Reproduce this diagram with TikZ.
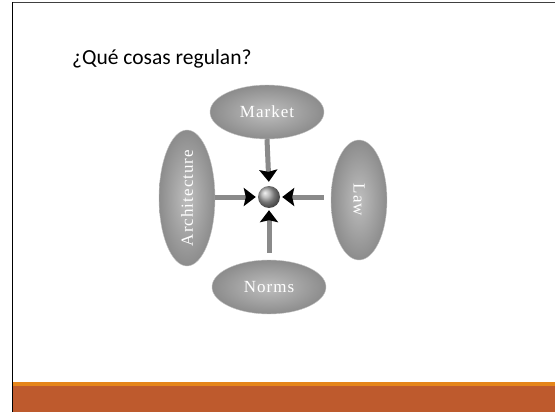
\documentclass[tikz,border=0pt]{standalone}
\usepackage{fontspec}
\newfontfamily\carlito{Carlito}
\newfontfamily\labelserif[LetterSpace=6]{Liberation Serif}
\usetikzlibrary{shapes.geometric,arrows.meta}
\definecolor{bandlight}{HTML}{E5851A}
\definecolor{banddark}{HTML}{BE5A2D}
\definecolor{framegray}{HTML}{404040}
\definecolor{ellin}{HTML}{BEBEBE}
\definecolor{ellout}{HTML}{8C8C8C}
\definecolor{shaft}{HTML}{8A8A8A}
\tikzset{
  pill/.style={ellipse, inner sep=0pt, shading=radial, inner color=ellin, outer color=ellout,
    draw=gray!45, line width=0.4pt, text=white, font=\labelserif\fontsize{17}{19}\selectfont},
  hpill/.style={pill, minimum width=114pt, minimum height=54pt},
  vpill/.style={pill, minimum width=56pt, minimum height=120pt},
  force/.style={line width=5pt, draw=shaft, -{Stealth[width=18pt,length=12pt,inset=2pt,color=black]}},
}
\begin{document}
\begin{tikzpicture}[x=1pt,y=-1pt]
\useasboundingbox (0,0) rectangle (555,412);
\fill[white] (0,0) rectangle (555,412);
% bands
\fill[bandlight] (12,382) rectangle (555,386);
\fill[banddark] (12,386) rectangle (555,412);
% frame
\draw[framegray, line width=1.5pt] (12,2.5) -- (555,2.5);
\draw[black, line width=1pt] (12,2.5) -- (12,412);
% title
\node[anchor=base west, inner sep=0pt, font=\carlito\fontsize{21.5}{24}\selectfont] (title) at (72,65) {¿Qué cosas regulan?};
% ellipses
\node[hpill] (market) at (267,112) {Market};
\node[hpill] (norms) at (269,287) {Norms};
\node[vpill] (arch) at (187,198) {\rotatebox{90}{Architecture}};
\node[vpill] (law) at (359,200) {\rotatebox{-90}{Law}};
% center ball
\node[circle, minimum size=22pt, inner sep=0pt, ball color=gray!70] (ball) at (269,197) {};
% arrows
\draw[force, shorten >=4pt] (market.south) -- (ball.north);
\draw[force, shorten >=2pt] (arch.east |- ball) -- (ball.west);
\draw[force, shorten <=7pt, shorten >=2pt] (law.west |- ball) -- (ball.east);
\draw[force, shorten <=7pt, shorten >=2pt] (norms.north) -- (ball.south);
\end{tikzpicture}
\end{document}
